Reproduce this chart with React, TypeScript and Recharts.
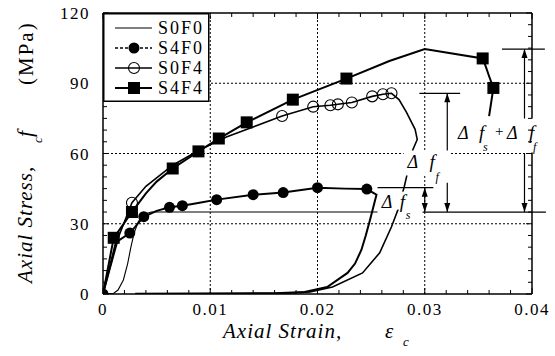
import React from 'react';
import {
  ScatterChart,
  Scatter,
  XAxis,
  YAxis,
  ReferenceLine,
  ReferenceDot,
  Legend,
} from 'recharts';

type Pt = { x: number; y: number };

// ---- data (axial strain, axial stress MPa) ----
const s0f0Curve: Pt[] = [
  { x: 0, y: 0 }, { x: 0.001, y: 0.3 }, { x: 0.0014, y: 1.7 }, { x: 0.0019, y: 6 },
  { x: 0.0023, y: 13 }, { x: 0.0026, y: 20 }, { x: 0.0029, y: 26 }, { x: 0.0033, y: 31 },
  { x: 0.0038, y: 34 }, { x: 0.0045, y: 35 }, { x: 0.0256, y: 35 },
];

const s4f0Curve: Pt[] = [
  { x: 0, y: 0 }, { x: 0.0012, y: 22 }, { x: 0.0025, y: 26 }, { x: 0.0038, y: 33 },
  { x: 0.005, y: 35.5 }, { x: 0.0062, y: 37 }, { x: 0.0074, y: 37.7 }, { x: 0.009, y: 39 },
  { x: 0.0106, y: 40.3 }, { x: 0.014, y: 42.4 }, { x: 0.0168, y: 43.3 }, { x: 0.02, y: 45.4 },
  { x: 0.0225, y: 45 }, { x: 0.0246, y: 44.8 }, { x: 0.0255, y: 42.4 }, { x: 0.0252, y: 37 },
  { x: 0.0249, y: 31.7 }, { x: 0.0245, y: 25 }, { x: 0.0241, y: 18.9 }, { x: 0.0235, y: 13 },
  { x: 0.0228, y: 9 }, { x: 0.0209, y: 3 }, { x: 0.0188, y: 0.9 }, { x: 0.016, y: 0.3 },
  { x: 0.003, y: 0.1 },
];
const s4f0Marks: Pt[] = [
  { x: 0, y: 0 }, { x: 0.0025, y: 26 }, { x: 0.0038, y: 33 }, { x: 0.0062, y: 37 },
  { x: 0.0074, y: 37.7 }, { x: 0.0106, y: 40.3 }, { x: 0.014, y: 42.4 }, { x: 0.0168, y: 43.3 },
  { x: 0.02, y: 45.4 }, { x: 0.0246, y: 44.8 },
];

const s0f4Curve: Pt[] = [
  { x: 0, y: 0 }, { x: 0.0015, y: 25 }, { x: 0.0027, y: 39 }, { x: 0.004, y: 46 },
  { x: 0.0065, y: 55 }, { x: 0.009, y: 61.5 }, { x: 0.0115, y: 67 }, { x: 0.014, y: 71.3 },
  { x: 0.0167, y: 76 }, { x: 0.0196, y: 80 }, { x: 0.0212, y: 80.6 }, { x: 0.0219, y: 81 },
  { x: 0.0232, y: 81.8 }, { x: 0.0251, y: 84.4 }, { x: 0.0261, y: 85.3 }, { x: 0.0269, y: 85.7 },
  { x: 0.0276, y: 83 }, { x: 0.0283, y: 77.6 }, { x: 0.0291, y: 70.3 }, { x: 0.0293, y: 66 },
  { x: 0.0289, y: 61.7 }, { x: 0.0285, y: 55 }, { x: 0.0283, y: 50 }, { x: 0.0281, y: 46 },
  { x: 0.0275, y: 36 }, { x: 0.0269, y: 28.7 }, { x: 0.0258, y: 17.6 }, { x: 0.0242, y: 9 },
  { x: 0.0214, y: 3 }, { x: 0.0193, y: 0.9 }, { x: 0.017, y: 0.3 }, { x: 0.012, y: 0.1 },
];
const s0f4Marks: Pt[] = [
  { x: 0.0027, y: 39 }, { x: 0.0167, y: 76 }, { x: 0.0196, y: 80 }, { x: 0.0212, y: 80.6 },
  { x: 0.0219, y: 81 }, { x: 0.0232, y: 81.8 }, { x: 0.0251, y: 84.4 }, { x: 0.0261, y: 85.3 },
  { x: 0.0269, y: 85.7 },
];

const s4f4Curve: Pt[] = [
  { x: 0, y: 0 }, { x: 0.001, y: 24 }, { x: 0.0027, y: 35 }, { x: 0.004, y: 43 },
  { x: 0.005, y: 48 }, { x: 0.0065, y: 53.6 }, { x: 0.0089, y: 60.9 }, { x: 0.0108, y: 66.4 },
  { x: 0.0134, y: 73.3 }, { x: 0.0177, y: 83 }, { x: 0.0227, y: 92 }, { x: 0.0267, y: 99.5 },
  { x: 0.03, y: 104.6 }, { x: 0.0354, y: 100.6 }, { x: 0.0357, y: 97 }, { x: 0.036, y: 93 },
  { x: 0.0364, y: 88 }, { x: 0.0362, y: 82 }, { x: 0.036, y: 76 },
];
const s4f4Marks: Pt[] = [
  { x: 0.001, y: 24 }, { x: 0.0027, y: 35 }, { x: 0.0065, y: 53.6 }, { x: 0.0089, y: 60.9 },
  { x: 0.0108, y: 66.4 }, { x: 0.0134, y: 73.3 }, { x: 0.0177, y: 83 }, { x: 0.0227, y: 92 },
  { x: 0.0354, y: 100.6 }, { x: 0.0364, y: 88 },
];

const seriesNames = ['S0F0', 'S4F0', 'S0F4', 'S4F4'];

// peak levels used by the annotation arrows
const levelS0F0 = 35;
const peakS4F0 = 45.4;
const peakS0F4 = 85.7;
const peakS4F4 = 104.6;

const xTicks = [
  0, 0.002, 0.004, 0.006, 0.008, 0.01, 0.012, 0.014, 0.016, 0.018, 0.02,
  0.022, 0.024, 0.026, 0.028, 0.03, 0.032, 0.034, 0.036, 0.038, 0.04,
];
const xMajor = [0, 0.01, 0.02, 0.03, 0.04];
const xMajorLabels = ['0', '0.01', '0.02', '0.03', '0.04'];
const yTicks = [
  0, 5, 10, 15, 20, 25, 30, 35, 40, 45, 50, 55, 60, 65, 70, 75, 80, 85, 90,
  95, 100, 105, 110, 115, 120,
];
const yMajor = [0, 30, 60, 90, 120];
const yMajorLabels = ['0', '30', '60', '90', '120'];

// ---- layout ----
const W = 555;
const H = 356;
const X_AXIS_H = 30;
const Y_AXIS_W = 40;
const PLOT = { left: 103, top: 13, right: 532, bottom: 294 };
const MARGIN = {
  top: PLOT.top,
  right: W - PLOT.right,
  bottom: H - PLOT.bottom - X_AXIS_H,
  left: PLOT.left - Y_AXIS_W,
};
const PLOT_W = PLOT.right - PLOT.left;
const PLOT_H = PLOT.bottom - PLOT.top;
const FONT = 'Liberation Serif, Times New Roman, Times, serif';
const INK = '#000';
const serif = { fontFamily: FONT };

const XTick = (props: any) => {
  const { x, y, payload } = props;
  const i = xMajor.indexOf(payload.value);
  const len = i >= 0 ? 6 : 4;
  return (
    <g>
      <line x1={x} y1={y} x2={x} y2={y - len} stroke={INK} />
      <line x1={x} y1={y - PLOT_H} x2={x} y2={y - PLOT_H + len} stroke={INK} />
      {i >= 0 && (
        <text x={x} y={y + 21} textAnchor="middle" style={serif} fontSize={17} letterSpacing={1.5} fill={INK}>
          {xMajorLabels[i]}
        </text>
      )}
    </g>
  );
};

const YTick = (props: any) => {
  const { x, y, payload } = props;
  const i = yMajor.indexOf(payload.value);
  const len = i >= 0 ? 6 : 4;
  return (
    <g>
      <line x1={x} y1={y} x2={x + len} y2={y} stroke={INK} />
      <line x1={x + PLOT_W} y1={y} x2={x + PLOT_W - len} y2={y} stroke={INK} />
      {i >= 0 && (
        <text x={x - 13} y={y + 6} textAnchor="end" style={serif} fontSize={17} letterSpacing={1.5} fill={INK}>
          {yMajorLabels[i]}
        </text>
      )}
    </g>
  );
};

const XTitle = ({ viewBox }: any) => {
  const { x, y } = viewBox;
  return (
    <g style={serif} fontStyle="italic" fill={INK}>
      <text x={x + 120} y={y + 44} fontSize={21} letterSpacing={1}>Axial Strain,</text>
      <text x={x + 282} y={y + 44} fontSize={21}>ε</text>
      <text x={x + 300} y={y + 52} fontSize={13}>c</text>
    </g>
  );
};

const YTitle = ({ viewBox }: any) => {
  const x = viewBox.x + viewBox.width;
  const y = viewBox.y;
  return (
    <g style={serif} fontStyle="italic" fill={INK}>
      <text transform={`translate(${x - 71} ${y + 270}) rotate(-90)`} fontSize={21} letterSpacing={1}>Axial Stress,</text>
      <text transform={`translate(${x - 71} ${y + 124}) rotate(-90)`} fontSize={22}>f</text>
      <text transform={`translate(${x - 61} ${y + 130}) rotate(-90)`} fontSize={13}>c</text>
      <text transform={`translate(${x - 70} ${y + 72}) rotate(-90)`} fontSize={21} fontStyle="normal" letterSpacing={2}>(MPa)</text>
    </g>
  );
};

// markers
const noMark = () => <g />;
const FilledCircle = (p: any) => <circle cx={p.cx} cy={p.cy} r={5.5} fill={INK} />;
const OpenCircle = (p: any) => <circle cx={p.cx} cy={p.cy} r={5.5} fill="none" stroke={INK} strokeWidth={1.1} />;
const FilledSquare = (p: any) => <rect x={p.cx - 6} y={p.cy - 6} width={12} height={12} fill={INK} />;

// arrow drawn along a reference segment, head at the second point (and optionally the first)
const arrow = (both: boolean) => (p: any) => {
  const { x1, y1, x2, y2 } = p;
  const head = (tx: number, ty: number, fy: number) => {
    const dir = ty > fy ? 1 : -1;
    return <polygon points={`${tx},${ty} ${tx - 3},${ty - dir * 9} ${tx + 3},${ty - dir * 9}`} fill={INK} />;
  };
  return (
    <g>
      <line x1={x1} y1={y1} x2={x2} y2={y2} stroke={INK} strokeWidth={1.2} />
      {head(x2, y2, y1)}
      {both && head(x1, y1, y2)}
    </g>
  );
};

const LabelDfs = (p: any) => (
  <g style={serif} fontStyle="italic" fill={INK}>
    <rect x={p.cx - 3} y={p.cy - 16} width={42} height={18} fill="#fff" />
    <text x={p.cx} y={p.cy} fontSize={18}>Δ</text>
    <text x={p.cx + 18} y={p.cy} fontSize={19}>f</text>
    <text x={p.cx + 24} y={p.cy + 11} fontSize={12}>s</text>
  </g>
);

const LabelDff = (p: any) => (
  <g style={serif} fontStyle="italic" fill={INK}>
    <rect x={p.cx - 4} y={p.cy - 18} width={46} height={25} fill="#fff" />
    <text x={p.cx} y={p.cy} fontSize={18}>Δ</text>
    <text x={p.cx + 22} y={p.cy} fontSize={19}>f</text>
    <text x={p.cx + 28} y={p.cy + 13} fontSize={12}>f</text>
  </g>
);

const LabelDsum = (p: any) => (
  <g style={serif} fontStyle="italic" fill={INK}>
    <rect x={p.cx - 4} y={p.cy - 20} width={88} height={34} fill="#fff" />
    <text x={p.cx} y={p.cy} fontSize={18}>Δ</text>
    <text x={p.cx + 21} y={p.cy} fontSize={19}>f</text>
    <text x={p.cx + 25} y={p.cy + 12} fontSize={12}>s</text>
    <text x={p.cx + 37} y={p.cy - 3} fontSize={15} fontStyle="normal">+</text>
    <text x={p.cx + 49} y={p.cy} fontSize={18}>Δ</text>
    <text x={p.cx + 71} y={p.cy} fontSize={19}>f</text>
    <text x={p.cx + 75} y={p.cy + 12} fontSize={12}>f</text>
  </g>
);

const legendRowY = [15, 35, 55, 75];

const LegendBox = () => (
  <svg width={107} height={89} style={{ display: 'block' }}>
    <rect x={0.75} y={0.75} width={105} height={87.5} fill="#fff" stroke={INK} strokeWidth={1.5} />
    {seriesNames.map((name, i) => {
      const y = legendRowY[i];
      return (
        <g key={name}>
          <line
            x1={12}
            x2={49}
            y1={y}
            y2={y}
            stroke={INK}
            strokeWidth={i === 0 ? 1.1 : i === 3 ? 2 : 1.3}
            strokeDasharray={i === 1 ? '3 2' : undefined}
          />
          {i === 1 && <circle cx={31} cy={y} r={5.5} fill={INK} />}
          {i === 2 && <circle cx={31} cy={y} r={5.5} fill="none" stroke={INK} strokeWidth={1.1} />}
          {i === 3 && <rect x={25} y={y - 6} width={12} height={12} fill={INK} />}
          <text x={55} y={y + 6} style={serif} fontSize={18} letterSpacing={2} fill={INK}>
            {name}
          </text>
        </g>
      );
    })}
  </svg>
);

const grid = { stroke: INK, strokeWidth: 1, strokeDasharray: '2 2' };

export default function App() {
  return (
    <div style={{ position: 'absolute', left: 0, top: 0, background: '#fff' }}>
      <ScatterChart width={W} height={H} margin={MARGIN}>
        <XAxis
          type="number"
          dataKey="x"
          domain={[0, 0.04]}
          ticks={xTicks}
          interval={0}
          allowDataOverflow
          height={X_AXIS_H}
          tickSize={0}
          tickMargin={0}
          tickLine={false}
          axisLine={{ stroke: INK, strokeWidth: 1.5 }}
          tick={XTick}
          label={XTitle}
        />
        <YAxis
          type="number"
          dataKey="y"
          domain={[0, 120]}
          ticks={yTicks}
          interval={0}
          allowDataOverflow
          width={Y_AXIS_W}
          tickSize={0}
          tickMargin={0}
          tickLine={false}
          axisLine={{ stroke: INK, strokeWidth: 1.5 }}
          tick={YTick}
          label={YTitle}
        />

        {/* dotted grid */}
        <ReferenceLine x={0.01} {...grid} />
        <ReferenceLine x={0.02} {...grid} />
        <ReferenceLine x={0.03} {...grid} />
        <ReferenceLine y={30} {...grid} />
        <ReferenceLine y={60} {...grid} />
        <ReferenceLine y={90} {...grid} />
        {/* frame */}
        <ReferenceLine y={120} stroke={INK} strokeWidth={1.5} />
        <ReferenceLine x={0.04} stroke={INK} strokeWidth={1.5} />

        <Scatter data={s0f0Curve} line={{ stroke: INK, strokeWidth: 1.1 }} lineType="joint" shape={noMark} isAnimationActive={false} />
        <Scatter data={s4f0Curve} line={{ stroke: INK, strokeWidth: 2 }} lineType="joint" shape={noMark} isAnimationActive={false} />
        <Scatter data={s0f4Curve} line={{ stroke: INK, strokeWidth: 1.6 }} lineType="joint" shape={noMark} isAnimationActive={false} />
        <Scatter data={s4f4Curve} line={{ stroke: INK, strokeWidth: 2 }} lineType="joint" shape={noMark} isAnimationActive={false} />
        <Scatter data={s4f0Marks} shape={FilledCircle} isAnimationActive={false} />
        <Scatter data={s0f4Marks} shape={OpenCircle} isAnimationActive={false} />
        <Scatter data={s4f4Marks} shape={FilledSquare} isAnimationActive={false} />

        {/* annotation: strength gains over plain concrete */}
        <ReferenceLine segment={[{ x: 0.0298, y: levelS0F0 }, { x: 0.0413, y: levelS0F0 }]} stroke={INK} strokeWidth={1.2} ifOverflow="visible" />
        <ReferenceLine segment={[{ x: 0.0256, y: peakS4F0 }, { x: 0.0308, y: peakS4F0 }]} stroke={INK} strokeWidth={1.2} ifOverflow="visible" />
        <ReferenceLine segment={[{ x: 0.0295, y: peakS0F4 }, { x: 0.0333, y: peakS0F4 }]} stroke={INK} strokeWidth={1.2} ifOverflow="visible" />
        <ReferenceLine segment={[{ x: 0.0372, y: peakS4F4 }, { x: 0.0412, y: peakS4F4 }]} stroke={INK} strokeWidth={1.2} ifOverflow="visible" />
        <ReferenceLine segment={[{ x: 0.03, y: peakS4F0 }, { x: 0.03, y: levelS0F0 }]} shape={arrow(true)} ifOverflow="visible" />
        <ReferenceLine segment={[{ x: 0.0321, y: 60.5 }, { x: 0.0321, y: peakS0F4 }]} shape={arrow(false)} ifOverflow="visible" />
        <ReferenceLine segment={[{ x: 0.0321, y: 47.5 }, { x: 0.0321, y: levelS0F0 }]} shape={arrow(false)} ifOverflow="visible" />
        <ReferenceLine segment={[{ x: 0.0393, y: 74.5 }, { x: 0.0393, y: peakS4F4 }]} shape={arrow(false)} ifOverflow="visible" />
        <ReferenceLine segment={[{ x: 0.0393, y: 60 }, { x: 0.0393, y: levelS0F0 }]} shape={arrow(false)} ifOverflow="visible" />

        <ReferenceDot x={0.026} y={36.9} shape={LabelDfs} ifOverflow="visible" />
        <ReferenceDot x={0.0284} y={53.6} shape={LabelDff} ifOverflow="visible" />
        <ReferenceDot x={0.0331} y={66.4} shape={LabelDsum} ifOverflow="visible" />

        <Legend
          layout="horizontal"
          verticalAlign="middle"
          align="center"
          content={LegendBox}
          wrapperStyle={{ left: 103, top: 13, width: 107, height: 89 }}
        />
      </ScatterChart>
    </div>
  );
}
